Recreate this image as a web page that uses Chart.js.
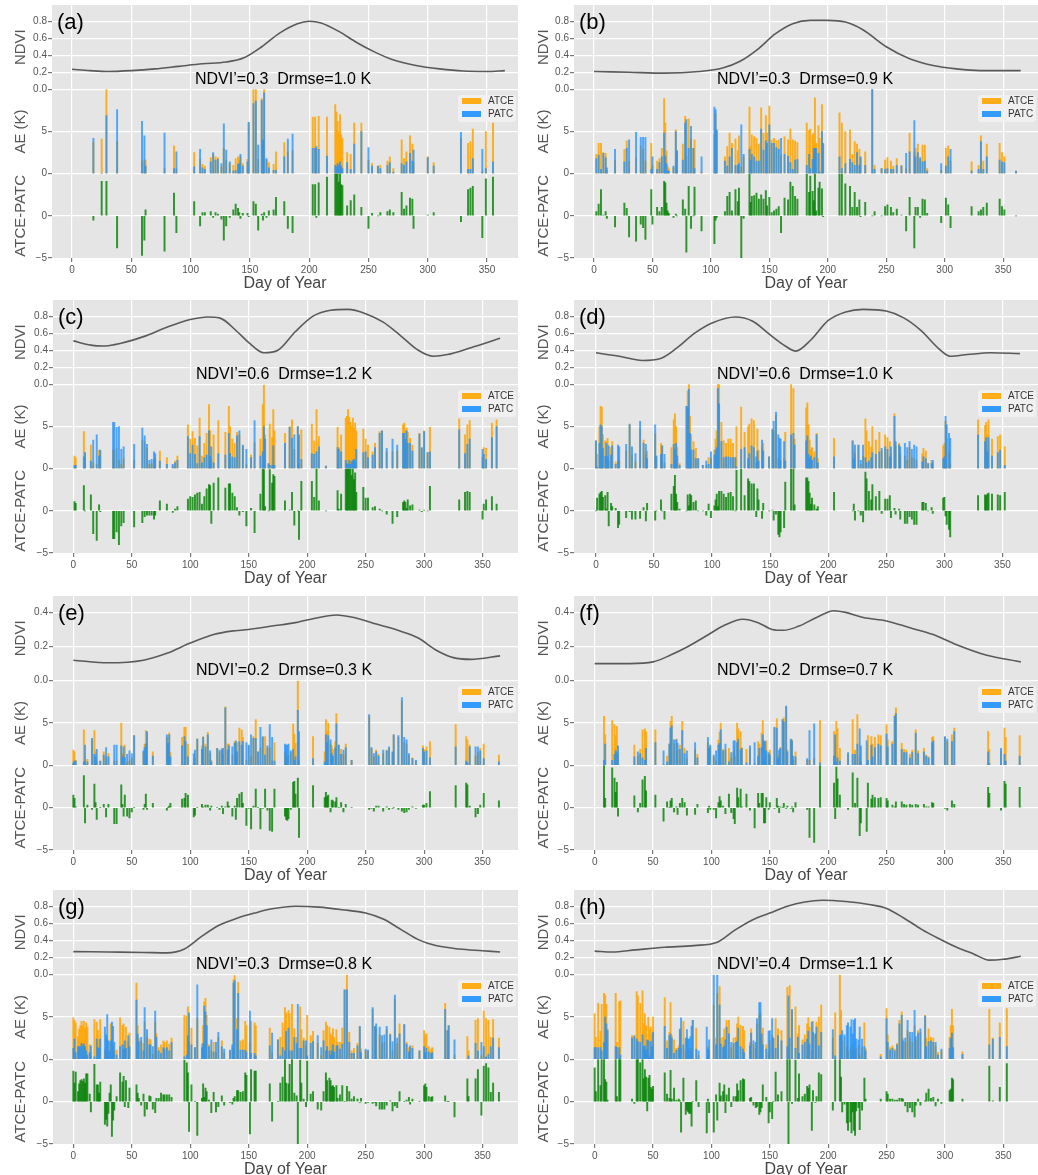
<!doctype html>
<html><head><meta charset="utf-8">
<script src="https://cdn.jsdelivr.net/npm/chart.js@4"></script>
<style>
body{margin:0;background:#fff;width:1038px;height:1175px;overflow:hidden;position:relative}
canvas{position:absolute}
</style></head><body>
<script>
// ---- panel (a) ----
const daysA=[18,25,29,38,59,61,62,78,86,88,103,108,110,112,117,119,121,123,126,128,130,133,136,138,140,141,142,144,148,149,153,155,157,160,161,162,164,166,170,172,179,182,186,203,205,206,208,215,222,223,224,225,226,227,228,232,235,238,244,250,253,258,260,266,268,271,278,280,282,285,287,288,300,305,328,334,336,338,346,349,355];
const atceA=[3.7,4.1,11,3.8,1.5,1.6,1.6,0.6,3.3,0.6,2.5,1.7,1.1,0.9,1.9,2.3,2.0,1.9,0.8,3.0,1.6,1.2,1.0,1.8,2.0,1.6,2.0,1.2,1.7,6.0,10,10,1.7,8.9,3.5,10,1.6,1.3,1.1,2.6,3.7,2.6,2.7,6.7,6.7,3.0,6.8,6.7,8.2,7.3,6.2,5.0,7.0,4.6,4.2,2.5,2.3,6.0,6.0,1.6,1.2,0.9,1.0,1.5,2.0,0.6,4.0,1.8,2.6,4.5,3.5,1.3,2.0,1.3,4.2,3.6,3.8,5.3,0.3,5.0,6.0];
const patcA=[4.2,0.0,6.9,7.6,6.2,4.5,0.9,4.8,0.6,2.6,0.8,2.9,0.7,0.5,1.4,2.5,1.6,1.7,1.2,5.9,2.8,1.4,0.3,0.4,1.1,1.2,2.3,0.9,1.4,6.1,8.3,8.6,3.4,8.7,4.0,9.6,1.8,0.7,0.4,0.4,2.0,4.1,4.7,3.0,3.0,3.2,2.9,2.1,1.0,0.8,1.2,1.0,1.4,0.9,0.6,1.3,0.5,3.5,5.0,3.1,0.9,0.9,0.6,1.0,1.3,0.2,1.2,1.0,1.4,2.4,1.5,2.8,1.9,0.9,4.9,0.5,0.5,1.8,2.9,0.6,1.4];
const ndviDaysA=[0,15,30,50,70,90,110,130,145,160,175,190,200,210,225,240,255,270,290,310,330,350,365];
const ndviA=[0.235,0.22,0.21,0.22,0.24,0.27,0.30,0.32,0.37,0.50,0.66,0.77,0.80,0.78,0.68,0.55,0.44,0.35,0.28,0.24,0.215,0.21,0.22];

// ---- panel (b) ----
const daysB=[2,4,6,8,10,11,18,26,28,30,36,40,42,44,49,50,54,56,58,60,61,62,63,64,68,70,71,76,78,79,81,83,85,86,92,103,104,105,112,114,116,118,121,123,124,126,128,133,134,135,137,139,141,143,145,147,148,150,152,154,156,158,160,163,166,168,170,172,174,182,184,185,187,188,189,190,192,193,195,196,210,212,215,219,221,223,225,227,228,232,238,240,246,249,251,254,256,259,263,267,270,274,275,277,279,281,283,285,297,301,303,305,323,329,331,333,336,347,349,351,361];
const atceB=[2.3,3.6,3.6,2.5,2.4,0.4,1.6,2.9,3.9,1.5,1.9,3.3,2.9,1.5,3.6,1.0,1.5,1.8,3.0,8.9,6.0,2.7,0.9,0.6,0.7,5.2,2.7,3.5,6.8,2.1,6.5,4.1,3.0,4.0,0.2,4.6,7.1,5.0,2.0,3.2,4.8,3.6,4.1,2.7,4.5,0.8,2.0,7.9,3.2,4.6,4.4,4.2,3.5,7.8,4.8,6.9,4.8,8.0,4.0,4.2,3.9,4.0,2.2,4.4,4.0,5.3,4.0,3.9,3.7,6.0,5.1,5.3,4.6,4.8,9.0,3.6,5.7,4.2,8.2,3.5,7.2,6.0,5.0,5.2,2.3,3.8,3.5,2.9,1.9,2.6,10,1.0,0.6,1.6,1.9,1.5,0.9,1.8,1.0,0.6,4.8,2.5,3.0,3.5,1.7,3.4,3.4,0.6,0.4,3.0,3.3,1.5,1.4,1.0,4.5,1.5,3.5,3.6,2.5,2.0,0.3];
const patcB=[1.8,2.2,0.5,2.4,1.9,0.7,2.9,1.4,3.0,4.0,4.9,4.3,4.3,4.3,0.5,2.0,0.5,1.3,2.0,4.8,2.1,1.2,0.3,0.3,0.9,5.0,2.7,1.6,6.0,6.4,3.0,5.6,3.0,0.6,2.0,7.9,7.6,5.2,1.5,0.9,2.0,3.0,1.0,1.0,1.2,5.8,2.3,2.9,1.6,2.3,2.0,1.5,1.5,5.3,2.8,3.9,3.6,5.8,3.6,3.6,3.1,2.9,4.2,2.3,2.1,1.3,0.5,1.6,1.7,1.0,2.3,0.6,1.7,3.0,3.0,3.0,2.4,0.2,5.0,3.6,2.0,0.6,1.2,1.7,1.3,1.0,2.5,1.0,2.0,1.0,10,0.5,0.6,0.5,0.6,0.5,0.5,1.0,0.9,2.4,2.6,6.3,2.0,2.5,1.9,1.4,1.5,0.3,1.2,0.9,2.0,2.9,0.3,0.5,3.8,0.5,2.0,1.6,1.4,1.3,0.3];
const ndviDaysB=[0,30,60,90,110,125,140,155,170,185,200,215,230,250,270,290,310,330,350,365];
const ndviB=[0.21,0.20,0.19,0.21,0.25,0.33,0.47,0.65,0.77,0.81,0.81,0.79,0.70,0.50,0.36,0.28,0.24,0.22,0.22,0.22];

// ---- panel (c) ----
const daysC=[1,2,9,10,15,17,20,22,23,34,35,37,39,41,43,52,59,61,63,65,67,69,70,74,80,85,87,89,98,100,102,104,106,108,110,112,114,116,117,118,120,124,130,133,134,136,138,140,142,145,148,152,155,160,162,163,164,167,168,170,171,172,181,185,187,189,192,193,195,204,206,208,210,216,226,227,229,233,234,235,236,237,238,239,240,241,242,248,250,252,256,258,262,264,268,273,277,282,283,284,285,286,288,290,296,298,300,303,305,330,335,337,339,350,351,353,358,362];
const atceC=[1.5,1.3,4.4,1.9,2.8,0.7,0.5,2.2,2.1,2.2,2.2,2.4,1.0,0.5,1.2,1.0,3.4,3.2,2.4,0.5,0.6,1.0,1.3,2.1,1.3,0.3,0.9,1.5,5.2,3.5,4.4,3.6,2.7,6.0,1.5,3.0,4.2,7.6,4.5,1.1,4.0,5.7,4.3,7.4,5.0,3.5,3.0,4.3,4.0,2.7,0.5,1.6,3.1,3.5,7.6,9.9,4.0,0.6,5.3,3.7,7.0,4.5,4.2,5.0,5.8,2.3,5.0,0.6,4.6,5.3,3.3,7.0,3.8,0.3,4.9,2.5,4.0,6.0,6.2,7.0,6.1,5.5,5.0,6.0,4.8,5.4,4.5,4.7,3.5,2.8,2.0,3.0,4.4,4.5,2.0,2.0,2.1,5.2,5.4,4.5,4.8,4.3,3.6,2.8,4.2,2.4,4.5,1.9,4.9,5.9,4.0,5.2,5.7,1.3,2.5,2.4,5.4,5.8];
const patcC=[0.4,0.4,1.4,1.9,0.9,3.4,4.0,1.5,2.2,5.5,5.5,4.9,5.0,2.3,2.6,2.9,4.8,3.9,2.9,1.0,1.1,2.0,1.8,0.9,0.5,0.5,0.7,1.0,3.8,1.8,2.8,1.7,0.6,3.8,0.7,1.3,1.6,4.5,1.5,2.6,0.7,1.8,1.6,4.2,1.8,1.4,1.3,3.9,4.5,2.8,2.3,1.3,5.7,1.5,2.0,5.0,3.5,0.6,0.4,0.4,2.7,0.4,3.0,4.9,3.6,4.0,5.0,4.0,1.1,1.8,1.7,2.0,2.6,0.3,2.5,2.3,2.0,1.0,0.6,0.5,1.0,0.5,0.8,1.0,1.1,0.9,2.3,1.9,2.0,1.3,1.6,2.5,4.2,4.5,2.4,3.5,2.8,4.2,4.2,3.5,4.5,3.0,3.0,2.1,4.1,2.5,4.4,1.9,2.0,4.6,1.8,2.9,3.5,2.3,1.7,1.1,3.7,5.0];
const ndviDaysC=[0,15,25,40,60,80,100,115,125,140,150,163,175,190,205,220,235,250,265,280,295,308,320,340,365];
const ndviC=[0.51,0.46,0.45,0.48,0.56,0.67,0.76,0.79,0.78,0.62,0.49,0.37,0.40,0.62,0.80,0.87,0.88,0.83,0.73,0.57,0.40,0.33,0.35,0.43,0.54];

// ---- panel (d) ----
const daysD=[0,1,3,4,5,6,8,9,10,11,13,14,17,19,20,26,29,31,34,38,41,43,44,51,52,56,57,59,65,67,68,69,70,72,78,79,80,81,82,84,86,88,92,95,97,99,102,103,104,105,106,108,110,112,114,116,118,120,121,125,128,131,132,134,136,138,139,140,143,144,149,152,153,155,157,158,159,162,163,168,170,171,181,182,183,184,185,186,188,190,191,205,221,222,223,226,228,230,232,233,235,237,238,241,244,246,249,251,253,254,257,258,261,262,266,268,270,272,274,276,281,282,284,286,289,290,299,300,301,302,304,305,329,335,336,337,338,341,346,348,352];
const atceD=[3.3,1.7,5.0,7.4,7.3,4.0,3.3,3.2,3.6,0.9,2.5,3.2,0.8,0.8,1.0,2.1,5.2,1.6,0.8,4.7,3.4,1.7,2.1,4.1,1.5,3.0,2.7,0.7,2.5,5.8,6.5,5.0,2.5,0.6,7.4,9.2,10,6.2,4.0,3.2,2.4,1.2,0.4,0.4,1.3,1.2,2.2,3.5,4.5,10,10,5.5,3.3,3.0,3.5,3.5,3.0,1.3,5.0,7.3,4.3,5.0,5.3,5.9,5.7,0.7,4.7,2.2,2.5,3.0,1.4,4.7,4.5,6.3,1.2,0.5,1.0,1.2,4.3,10,9.5,3.5,7.2,7.8,5.2,3.4,2.3,2.5,2.0,4.2,1.2,3.6,3.3,2.0,1.7,2.8,0.5,1.5,5.9,4.5,3.2,2.6,5.0,3.4,4.3,2.1,4.0,3.7,3.2,1.8,6.5,2.8,3.0,1.6,1.5,1.0,2.5,1.3,1.2,1.0,1.8,2.4,2.1,0.6,1.0,0.7,2.7,3.0,5.6,3.6,2.0,0.5,5.8,5.1,5.5,4.0,5.8,3.5,3.8,4.0,2.6];
const patcD=[3.3,0.2,3.0,5.2,5.0,2.4,1.5,3.0,1.4,2.7,1.6,2.7,0.5,2.8,2.6,2.9,5.3,2.6,1.8,5.6,3.0,2.9,1.2,5.2,1.5,1.7,2.7,1.7,0.5,2.9,2.3,3.0,1.5,0.4,7.4,7.3,9.4,4.2,2.2,2.2,1.2,1.2,0.4,0.9,0.5,2.0,1.6,2.2,2.5,9.5,7.7,3.2,1.3,1.4,1.4,1.3,1.3,1.3,0.2,2.3,2.5,1.2,1.8,2.7,2.5,1.4,2.1,0.9,3.4,2.1,1.4,4.6,5.6,6.7,4.0,3.6,3.5,3.2,0.9,4.0,4.2,2.8,3.3,3.9,1.7,1.3,1.5,1.0,1.3,4.0,0.7,1.4,3.3,1.2,2.8,2.8,1.0,2.8,1.3,0.7,0.9,1.3,1.9,1.7,2.0,2.4,2.6,2.3,1.4,2.6,6.2,3.2,2.8,2.6,3.0,2.5,3.2,2.3,2.8,2.6,0.8,1.4,1.2,0.6,0.6,1.0,1.2,1.4,6.2,5.2,4.2,3.6,4.0,3.2,3.7,2.0,3.7,1.5,1.9,2.2,0.4];
const ndviDaysD=[0,20,40,55,70,85,100,120,135,150,163,172,185,200,215,230,250,265,280,295,305,320,340,365];
const ndviD=[0.37,0.33,0.28,0.30,0.43,0.60,0.72,0.79,0.74,0.58,0.45,0.39,0.52,0.75,0.85,0.88,0.86,0.78,0.63,0.42,0.33,0.35,0.37,0.36];

// ---- panel (e) ----
const daysE=[0,1,2,9,10,12,16,18,19,20,23,26,28,30,35,37,41,42,43,44,46,48,50,52,60,61,62,63,68,80,81,82,83,93,95,96,98,103,104,106,110,111,113,115,117,118,123,125,127,128,130,132,133,136,138,139,140,142,144,145,148,150,152,154,156,158,160,162,164,166,168,170,172,181,182,183,184,186,188,189,190,192,193,205,215,216,217,218,220,221,222,224,225,227,229,231,233,238,253,255,257,259,261,265,268,270,273,274,278,281,283,285,287,290,293,299,300,302,305,327,336,337,339,344,346,348,351,364];
const atceE=[1.8,1.6,0.6,4.2,0.6,0.7,3.0,4.1,1.6,0.5,0.5,1.6,1.0,1.4,0.5,0.5,5.0,1.4,1.2,2.4,0.3,0.5,0.9,3.5,1.5,2.5,4.1,3.8,1.6,3.3,2.6,3.8,1.5,3.3,4.5,4.5,2.5,0.3,0.9,3.1,2.3,3.4,2.5,3.9,1.4,0.6,2.0,1.6,2.0,1.3,6.9,2.5,2.5,1.2,2.8,1.5,2.7,4.4,4.2,3.3,0.6,2.3,1.1,3.4,5.4,1.6,2.0,3.3,3.4,2.0,2.1,0.5,2.7,1.5,1.0,0.9,1.2,1.5,4.9,3.7,2.6,10,0.5,3.4,1.6,5.4,4.0,5.0,2.5,2.3,1.9,2.8,6.1,2.4,1.9,1.3,2.5,0.6,5.8,2.0,1.0,1.8,1.3,1.4,1.8,2.0,1.5,3.6,3.3,7.6,2.7,2.5,1.2,0.9,0.5,2.3,1.9,2.2,2.8,4.8,3.4,3.0,2.4,1.1,1.5,2.0,2.5,1.2];
const patcE=[0.3,0.5,0.5,0.4,2.4,0.4,3.2,1.3,1.0,1.9,0.5,1.2,2.1,1.0,2.4,2.4,2.3,1.0,2.2,0.9,1.3,1.7,1.4,3.5,1.7,2.1,2.5,4.0,1.1,3.6,2.6,3.6,1.0,2.3,3.4,2.8,1.0,1.4,1.8,3.1,1.9,3.3,2.2,3.6,1.7,0.4,2.0,1.8,1.8,2.0,6.8,1.8,2.3,2.2,2.6,2.9,1.6,2.8,2.4,2.8,2.7,2.4,3.6,3.2,3.2,1.6,4.5,3.4,1.2,2.3,4.8,3.3,0.5,2.5,2.4,2.4,2.5,1.7,1.9,0.6,1.0,6.5,4.0,0.8,0.4,3.6,2.7,3.5,3.0,1.4,1.1,2.1,4.9,2.4,1.3,1.8,2.1,0.6,6.0,2.1,1.4,1.6,1.1,1.8,1.7,2.2,1.6,3.6,3.5,8.0,3.3,3.0,1.4,0.8,0.6,2.0,1.6,1.7,0.9,2.2,0.5,0.3,2.2,2.2,2.2,1.7,0.8,0.4];
const ndviDaysE=[0,30,60,80,100,120,135,150,170,190,210,225,240,260,280,295,310,325,340,365];
const ndviE=[0.12,0.105,0.12,0.16,0.22,0.27,0.29,0.30,0.32,0.34,0.37,0.385,0.37,0.33,0.29,0.25,0.18,0.135,0.125,0.145];

// ---- panel (f) ----
const daysF=[8,9,15,17,18,19,20,34,37,39,41,43,44,52,59,62,64,65,66,68,70,71,73,75,77,79,86,88,97,98,99,102,104,106,107,108,110,112,115,117,119,120,122,123,125,126,130,133,137,140,141,143,144,145,146,147,149,150,154,156,157,158,159,161,162,164,165,168,169,170,172,182,184,188,193,205,206,207,208,210,217,221,223,225,227,228,233,234,237,238,240,243,245,250,251,255,257,258,263,265,267,270,272,275,277,282,284,286,289,290,300,302,306,308,337,338,348,351,352,364];
const atceF=[5.8,3.6,5.3,4.8,3.5,4.6,1.3,2.4,1.1,1.9,4.2,4.3,4.0,4.2,0.1,1.1,2.5,5.2,5.8,2.5,3.1,1.8,2.4,5.2,2.0,0.8,1.9,1.3,2.7,2.2,2.2,1.0,0.5,3.0,3.9,5.0,1.9,1.8,2.0,0.9,1.6,1.0,5.0,4.3,4.0,2.1,1.9,2.0,0.3,2.8,2.5,3.8,5.3,1.1,1.0,2.9,1.3,1.8,4.4,5.5,1.0,1.2,2.1,5.4,5.6,6.9,1.8,3.0,3.0,0.6,1.6,0.6,0.6,0.8,5.3,4.0,2.3,5.2,4.3,2.0,1.3,5.4,1.8,6.0,1.0,0.5,0.1,3.5,3.4,2.5,3.3,3.6,3.5,4.8,3.0,2.8,5.9,6.8,2.6,1.9,1.8,1.3,1.8,4.2,1.7,2.0,1.2,1.0,3.3,3.4,3.3,2.8,3.6,4.4,4.0,1.9,1.7,4.4,3.3,3.5];
const patcF=[0.6,2.5,0.6,1.3,1.7,1.6,2.3,1.0,1.6,1.4,0.9,0.6,2.0,2.7,1.7,0.4,2.5,4.4,4.7,3.0,3.0,2.6,1.9,4.1,1.4,1.7,2.7,0.9,3.3,2.0,2.4,1.2,1.7,2.4,2.6,4.2,1.7,2.5,0.4,1.5,2.9,2.9,2.7,3.1,1.8,2.0,0.3,2.3,2.7,1.1,2.0,2.1,3.6,2.9,2.8,1.7,1.5,1.2,4.5,4.4,0.8,1.8,2.0,5.4,5.1,7.0,1.6,3.1,2.9,1.1,1.0,0.8,4.1,4.9,0.3,1.1,3.6,0.4,0.9,0.5,1.5,1.3,1.3,2.5,4.3,2.3,2.9,0.6,2.4,1.0,2.1,2.5,2.3,3.7,2.2,2.5,5.8,6.1,1.9,1.5,1.5,0.9,1.5,3.8,1.4,1.6,1.1,0.9,2.7,2.9,3.4,3.1,2.8,4.0,1.6,0.2,2.0,1.3,0.5,1.1];
const ndviDaysF=[0,30,50,65,80,95,110,127,140,152,162,175,190,205,215,230,250,270,290,310,335,365];
const ndviF=[0.10,0.10,0.11,0.15,0.20,0.26,0.32,0.36,0.34,0.30,0.295,0.32,0.37,0.41,0.40,0.37,0.35,0.31,0.27,0.21,0.15,0.11];

// ---- panel (g) ----
const daysG=[0,1,2,4,5,6,7,8,9,10,11,12,14,15,18,20,21,22,23,27,28,29,30,31,32,33,34,35,37,40,42,43,44,45,47,48,54,55,56,58,60,61,63,65,66,68,70,71,73,75,77,78,80,82,84,95,97,98,99,101,104,106,110,111,112,113,114,116,118,120,122,124,127,129,134,136,137,138,140,141,143,145,147,148,151,152,155,156,168,170,175,177,179,181,182,184,185,187,189,191,192,194,195,197,199,200,203,205,209,212,214,216,217,219,220,221,222,223,225,226,228,230,232,234,236,238,240,243,245,246,250,252,256,258,259,262,264,266,268,271,273,275,277,279,283,285,287,288,290,296,300,301,302,304,306,307,318,320,321,326,337,338,344,346,349,351,353,355,357,359,364];
const atceG=[4.9,4.6,4.3,2.7,3.6,4.0,4.5,4.0,4.5,3.7,4.3,3.8,1.7,0.4,4.7,4.4,3.4,2.3,4.7,1.1,0.8,2.4,0.8,2.0,4.2,0.3,1.7,1.0,1.1,4.9,4.0,4.2,1.6,3.8,2.1,3.1,9.0,4.0,2.5,2.2,1.9,4.4,2.6,2.4,2.3,0.6,4.4,3.0,1.4,1.7,2.2,2.0,2.2,1.8,2.5,5.2,5.1,6.2,2.0,3.7,1.4,4.8,1.8,4.0,6.8,7.2,5.2,1.7,1.0,2.0,0.8,2.6,2.2,0.8,1.0,1.4,9.4,9.9,4.8,9.1,2.2,2.3,4.5,4.0,1.9,4.5,4.3,4.0,3.7,0.8,2.3,2.6,4.3,6.1,5.5,5.8,5.4,6.5,3.6,2.6,1.2,6.2,3.5,2.5,1.6,5.2,2.8,3.3,1.9,0.4,3.4,4.4,4.0,3.8,3.0,2.8,3.6,2.6,3.5,2.0,2.0,3.7,8.2,10,3.2,1.0,1.3,1.9,3.8,1.2,1.0,1.0,5.9,3.8,3.7,2.9,1.9,2.0,3.5,3.0,1.0,7.1,1.8,4.2,4.1,2.0,1.4,1.3,1.6,1.0,3.4,2.9,3.0,1.5,1.2,1.4,6.6,3.4,4.0,0.5,2.7,1.0,4.6,4.8,0.4,5.7,4.8,4.6,2.6,4.7,2.5];
const patcG=[1.3,2.4,0.8,1.5,1.5,1.5,1.9,1.6,1.8,1.5,1.0,0.5,0.8,1.6,0.3,2.4,1.4,1.3,2.4,3.8,2.9,5.3,2.2,1.0,2.2,4.4,3.9,2.0,0.5,1.5,1.7,1.2,2.2,1.3,2.8,1.5,7.0,3.0,2.1,2.6,1.0,6.1,3.5,1.7,1.7,1.5,5.7,2.6,1.0,0.7,1.4,1.2,1.4,1.0,2.0,0.3,0.5,2.8,5.5,1.7,1.4,8.8,1.4,1.9,6.3,5.6,4.0,1.5,2.3,0.9,2.0,3.2,1.5,1.2,1.1,1.7,9.0,9.3,3.5,7.8,1.1,1.1,1.1,0.9,5.7,0.7,0.7,0.4,1.6,3.1,2.3,0.4,1.4,1.0,3.3,3.7,1.0,1.0,2.6,1.9,6.5,1.3,1.3,2.2,2.2,0.4,1.9,2.1,2.8,1.4,2.2,1.0,1.5,1.0,0.5,1.0,1.7,0.9,1.6,1.6,1.2,1.8,8.2,8.2,2.0,0.7,0.7,1.6,3.9,0.8,1.2,1.1,6.1,3.9,4.2,3.8,2.8,2.9,3.9,2.9,2.1,7.6,2.5,3.0,4.1,1.8,0.9,1.6,1.3,1.0,1.5,0.8,1.3,0.9,0.7,0.8,5.9,3.4,4.0,2.3,0.0,0.4,1.9,1.0,2.0,1.5,0.3,0.6,1.5,2.5,1.4];
const ndviDaysG=[0,30,60,80,95,110,125,140,155,170,190,210,230,250,265,280,295,310,330,350,365];
const ndviG=[0.27,0.265,0.26,0.255,0.30,0.45,0.58,0.66,0.72,0.77,0.80,0.79,0.76,0.72,0.65,0.53,0.41,0.34,0.30,0.28,0.265];

// ---- panel (h) ----
const daysH=[0,1,3,5,6,8,9,10,11,18,19,21,22,32,34,36,37,39,41,42,43,44,45,46,47,48,49,50,60,62,64,65,66,68,70,72,73,74,76,78,79,80,81,82,83,84,87,89,96,97,98,102,104,105,107,108,110,111,112,113,115,117,119,121,122,123,125,127,128,133,134,136,138,139,141,142,143,144,147,149,150,152,153,155,157,160,165,166,167,169,172,174,175,178,180,182,183,184,186,187,189,190,192,194,204,206,210,211,212,214,216,217,219,220,221,222,223,224,226,227,229,231,232,245,250,251,253,255,257,259,261,263,264,266,268,270,272,274,275,277,279,283,284,286,288,290,292,294,297,304,305,306,307,315,338,341,347,353];
const atceH=[5.4,2.6,6.6,3.3,6.5,7.8,7.6,6.5,3.6,7.8,2.0,6.8,6.9,2.8,2.6,8.0,7.5,6.6,8.1,4.2,5.4,4.0,1.2,5.0,3.5,3.8,3.0,5.0,7.3,2.2,3.2,6.7,2.8,2.3,1.3,1.6,3.6,1.3,4.5,1.0,2.5,1.2,1.0,1.3,1.0,4.6,3.7,0.4,0.1,1.5,1.0,6.4,2.5,7.8,8.6,2.5,2.6,3.6,1.0,4.6,4.6,1.4,2.5,2.6,4.2,5.0,4.0,3.9,3.4,2.0,3.6,1.8,1.3,4.2,5.2,5.5,2.3,3.7,1.7,0.8,2.2,2.8,2.5,4.8,3.6,3.4,8.5,1.0,8.7,5.7,6.2,3.0,4.0,2.3,2.9,4.2,4.9,3.8,1.0,4.5,2.9,4.4,5.0,6.4,2.5,5.5,10,5.8,2.2,2.6,1.5,0.9,1.4,1.0,1.8,1.2,0.8,1.3,1.6,0.5,1.4,4.3,1.3,0.6,6.0,2.9,1.4,1.6,1.2,1.9,4.6,5.6,2.5,2.0,3.4,2.5,2.0,4.0,2.3,3.4,3.2,5.2,2.5,3.6,2.6,2.5,1.5,0.8,1.0,2.6,4.0,5.9,4.0,0.9,5.9,2.5,4.3,6.0];
const patcH=[1.4,1.4,1.4,1.4,1.0,2.0,5.0,4.2,3.4,1.5,1.4,1.4,0.5,2.5,2.8,2.4,2.1,2.0,2.9,1.5,1.6,1.1,2.3,2.2,0.4,2.1,1.5,3.2,3.9,1.3,2.8,3.0,2.5,0.7,1.1,1.3,3.5,4.9,1.7,2.5,3.5,2.4,2.4,2.7,3.9,4.6,1.2,1.0,3.8,1.2,2.3,10,1.7,10,6.4,1.8,1.4,1.6,2.3,3.8,3.0,2.0,1.9,2.0,2.1,3.7,1.5,1.2,0.8,1.6,3.1,2.2,2.0,4.8,6.7,6.7,3.0,1.7,1.2,3.3,3.4,4.8,2.5,1.3,2.8,2.2,1.5,7.5,2.5,5.9,1.3,2.6,0.7,1.7,2.0,2.4,3.3,1.8,4.4,3.2,3.0,3.8,1.6,3.2,3.5,0.4,2.8,2.9,3.4,2.9,4.0,4.3,3.8,4.7,3.0,4.6,4.8,2.4,2.3,3.8,2.4,1.5,1.0,0.3,4.8,2.0,1.1,1.3,1.0,1.7,4.2,5.2,2.2,2.5,4.6,3.2,3.2,5.8,2.7,3.1,3.6,5.1,1.5,2.1,2.2,2.0,2.0,0.5,1.2,1.3,2.5,3.1,1.4,0.6,1.7,2.4,2.6,1.5];
const ndviDaysH=[0,15,35,60,85,105,120,135,150,165,180,195,215,235,250,265,280,295,310,325,338,350,365];
const ndviH=[0.275,0.265,0.29,0.32,0.34,0.38,0.52,0.64,0.72,0.80,0.85,0.87,0.855,0.82,0.775,0.66,0.53,0.42,0.32,0.24,0.17,0.18,0.215];

// ---- labels / ticks ----
const letters=['(a)','(b)','(c)','(d)','(e)','(f)','(g)','(h)'];
const notes=['NDVI\u2019=0.3  Drmse=1.0 K','NDVI\u2019=0.3  Drmse=0.9 K','NDVI\u2019=0.6  Drmse=1.2 K','NDVI\u2019=0.6  Drmse=1.0 K',
             'NDVI\u2019=0.2  Drmse=0.3 K','NDVI\u2019=0.2  Drmse=0.7 K','NDVI\u2019=0.3  Drmse=0.8 K','NDVI\u2019=0.4  Drmse=1.1 K'];
const xTicks=[0,50,100,150,200,250,300,350];
const ndviTicksHi=[0,0.2,0.4,0.6,0.8];
const ndviTicksLo=[0,0.2,0.4];
const aeTicks=[0,5];
const diffTicks=[-5,0];

const FONT="'Liberation Sans', Arial, sans-serif";

// background + panel letter + text + legend
const deco={
  id:'deco',
  beforeDraw(c){
    const a=c.chartArea, g=c.ctx;
    g.save(); g.fillStyle='#e5e5e5';
    g.fillRect(a.left,a.top,a.right-a.left,a.bottom-a.top); g.restore();
  },
  afterDraw(c){
    const a=c.chartArea, g=c.ctx, o=c.options.plugins.deco;
    g.save();
    g.fillStyle='#000'; g.textBaseline='middle'; g.textAlign='left';
    g.font='22px '+FONT; g.fillText(o.letter,a.left+5,a.top+18);
    g.textBaseline='alphabetic'; g.font='16px '+FONT;
    g.fillText(o.note,a.left+143,a.top+79);
    // legend
    const lx=a.right-60, ly=a.top+90;
    g.fillStyle='rgba(240,240,240,0.95)';
    g.beginPath(); g.roundRect(lx,ly,58,27,3); g.fill();
    g.fillStyle='rgba(255,165,0,0.9)'; g.fillRect(lx+4,ly+3,19,6);
    g.fillStyle='rgba(30,144,255,0.9)'; g.fillRect(lx+4,ly+16,19,6);
    g.fillStyle='#333'; g.font='10px '+FONT; g.textBaseline='middle';
    g.fillText('ATCE',lx+30,ly+6.5); g.fillText('PATC',lx+30,ly+19.5);
    g.restore();
  }
};

function panel(i,days,atce,patc,nd,nv,p){
  const cv=document.createElement('canvas');
  const h=8+p.plotH+37;
  cv.width=518; cv.height=h;
  cv.style.left=p.left+'px'; cv.style.top=(p.plotTop-8)+'px';
  document.body.appendChild(cv);

  const ae=v=>Math.min(v,10);
  const atcePts=days.map((d,k)=>({x:d,y:ae(atce[k])}));
  const patcPts=days.map((d,k)=>({x:d,y:ae(patc[k])}));
  const diffPts=days.map((d,k)=>({x:d,y:Math.max(-5,Math.min(5,atce[k]-patc[k]))}));
  const ndviPts=nd.map((d,k)=>({x:d,y:nv[k]}));

  const yAxis=(min,max,ticks,fmt,title,weight)=>({
    type:'linear',position:'left',stack:'s',stackWeight:1,weight,min,max,
    afterBuildTicks:s=>{s.ticks=ticks.map(v=>({value:v}));},
    afterFit:s=>{s.width=p.axisW;},
    grid:{color:t=>(t.tick&&t.tick.value===-5)?'rgba(0,0,0,0)':'#ffffff',lineWidth:1.2,tickColor:'#777',tickLength:4},
    border:{display:false},
    ticks:{font:{family:FONT,size:10},color:'#555',padding:1,autoSkip:false,callback:fmt},
    title:{display:true,text:title,font:{family:FONT,size:15},color:'#555',padding:{top:4,bottom:0}}
  });
  const bar={type:'bar',barThickness:1.3,grouped:false,borderWidth:0};

  // first dataset is drawn on top: PATC over ATCE
  new Chart(cv,{
    type:'bar',
    data:{datasets:[
      {type:'line',data:ndviPts,yAxisID:'yN',borderColor:'#5a5a5a',borderWidth:1.6,pointRadius:0,cubicInterpolationMode:'monotone',fill:false},
      Object.assign({data:patcPts,yAxisID:'yA',backgroundColor:'rgba(30,144,255,0.75)'},bar),
      Object.assign({data:atcePts,yAxisID:'yA',backgroundColor:'rgba(255,165,0,0.85)'},bar),
      Object.assign({data:diffPts,yAxisID:'yD',backgroundColor:'rgba(0,128,0,0.8)'},bar)
    ]},
    options:{
      responsive:false,animation:false,
      layout:{padding:{left:p.padL,top:8,right:0,bottom:0}},
      plugins:{legend:{display:false},tooltip:{enabled:false},deco:{letter:letters[i],note:notes[i]}},
      scales:{
        x:{type:'linear',min:p.xMin,max:p.xMax,offset:false,
          afterBuildTicks:s=>{s.ticks=xTicks.map(v=>({value:v}));},
          afterFit:s=>{s.height=37;},
          grid:{color:'#ffffff',lineWidth:1.2,offset:false,tickColor:'#777',tickLength:4},
          border:{display:false},
          ticks:{font:{family:FONT,size:10},color:'#555',padding:2,maxRotation:0,autoSkip:false},
          title:{display:true,text:'Day of Year',font:{family:FONT,size:16},color:'#444',padding:{top:0,bottom:2}}},
        yN:yAxis(0,p.ndviMax,p.ndviTicks,v=>v.toFixed(1),'NDVI',3),
        yA:yAxis(0,10,aeTicks,v=>String(v),'AE (K)',2),
        yD:yAxis(-5,5,diffTicks,v=>v<0?'\u2212'+Math.abs(v):String(v),'ATCE-PATC',1)
      }
    },
    plugins:[deco]
  });
}

const L={left:0,padL:8}, R={left:520,padL:11,axisW:43};
panel(0,daysA,atceA,patcA,ndviDaysA,ndviA,Object.assign({},L,{axisW:44,plotTop:5,plotH:253,xMin:-16.9,xMax:376.1,ndviMax:0.99,ndviTicks:ndviTicksHi}));
panel(1,daysB,atceB,patcB,ndviDaysB,ndviB,Object.assign({},R,{plotTop:5,plotH:253,xMin:-17.1,xMax:379.8,ndviMax:0.99,ndviTicks:ndviTicksHi}));
panel(2,daysC,atceC,patcC,ndviDaysC,ndviC,Object.assign({},L,{axisW:45,plotTop:300,plotH:253,xMin:-17.4,xMax:380.3,ndviMax:0.99,ndviTicks:ndviTicksHi}));
panel(3,daysD,atceD,patcD,ndviDaysD,ndviD,Object.assign({},R,{plotTop:300,plotH:253,xMin:-18.9,xMax:380.6,ndviMax:0.99,ndviTicks:ndviTicksHi}));
panel(4,daysE,atceE,patcE,ndviDaysE,ndviE,Object.assign({},L,{axisW:45,plotTop:596,plotH:254,xMin:-17.4,xMax:380.3,ndviMax:0.496,ndviTicks:ndviTicksLo}));
panel(5,daysF,atceF,patcF,ndviDaysF,ndviF,Object.assign({},R,{plotTop:596,plotH:254,xMin:-17.7,xMax:379.7,ndviMax:0.496,ndviTicks:ndviTicksLo}));
panel(6,daysG,atceG,patcG,ndviDaysG,ndviG,Object.assign({},L,{axisW:45,plotTop:890,plotH:254,xMin:-17.4,xMax:380.3,ndviMax:0.99,ndviTicks:ndviTicksHi}));
panel(7,daysH,atceH,patcH,ndviDaysH,ndviH,Object.assign({},R,{plotTop:890,plotH:254,xMin:-17.7,xMax:379.7,ndviMax:0.99,ndviTicks:ndviTicksHi}));
</script>
</body></html>
